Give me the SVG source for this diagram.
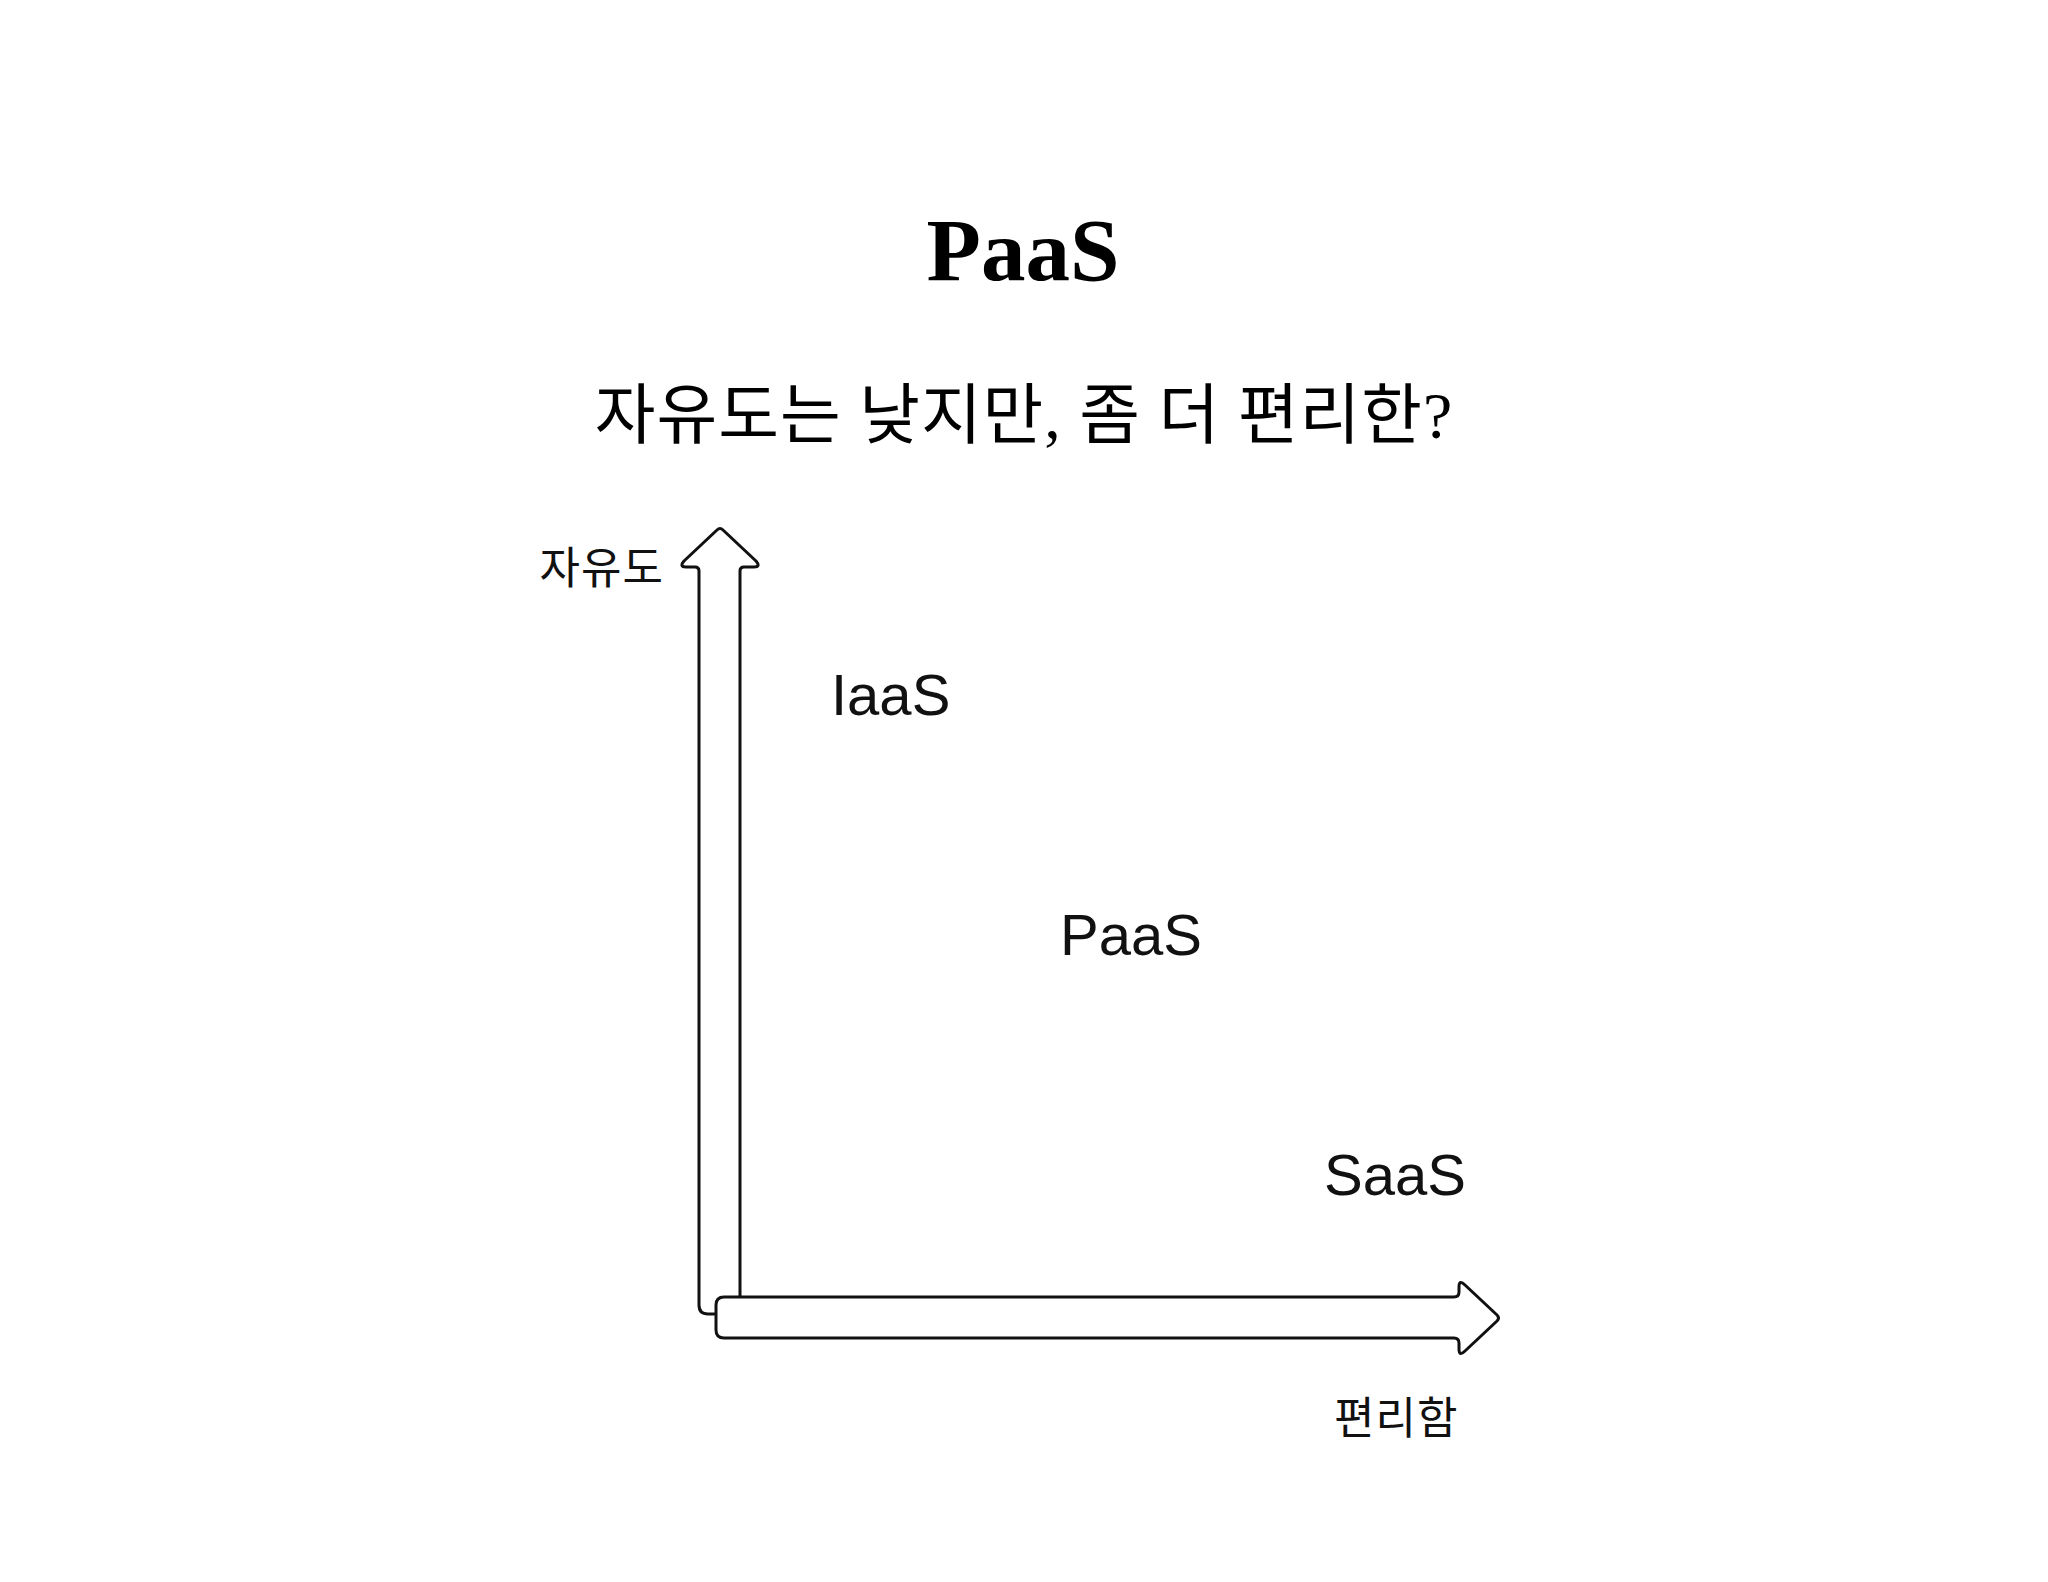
<svg xmlns="http://www.w3.org/2000/svg" width="2048" height="1582" viewBox="0 0 2048 1582">
<style>
.arrow{fill:#fff;stroke:#111;stroke-width:3;stroke-linejoin:round}
.title{font-family:"Liberation Serif","Noto Sans CJK KR",serif;font-weight:bold;font-size:89px;fill:#000}
.sub{font-family:"Liberation Serif","Noto Sans CJK KR",serif;font-size:66px;letter-spacing:1px;fill:#000}
.axis{font-family:"Noto Sans CJK KR","Noto Sans",sans-serif;font-size:44px;letter-spacing:1px;fill:#111}
.lbl{font-family:"Liberation Sans",Arial,sans-serif;font-size:58px;fill:#111}
</style>
<rect width="2048" height="1582" fill="#fff"/>
<g id="title"><text class="title" x="1023" y="280" text-anchor="middle">PaaS</text></g>
<g id="subtitle"><text class="sub" x="1024" y="438" text-anchor="middle">자유도는 낮지만, 좀 더 편리한?</text></g>
<g id="connectors">
<path id="y-axis" class="arrow" d="M740,1320 L740,571 Q740,567 744,567 L754,567 Q761,567 756,561 L723,530 Q720,527 717,530 L684,561 Q679,567 686,567 L695,567 Q699,567 699,571 L699,1305 Q699,1314 708,1314 L740,1314 Z"/>
<path id="x-axis" class="arrow" d="M724,1297 L1454,1297 Q1459,1297 1459,1292 L1459,1287 Q1459,1279 1465,1285 L1497,1315 Q1500,1318 1497,1321 L1465,1351 Q1459,1357 1459,1349 L1459,1343 Q1459,1338 1454,1338 L724,1338 Q716,1338 716,1330 L716,1305 Q716,1297 724,1297 Z"/>
</g>
<g id="label-freedom"><text class="axis" x="664" y="584" text-anchor="end">자유도</text></g>
<g id="label-convenience"><text class="axis" x="1334" y="1434">편리함</text></g>
<g id="node-iaas"><text class="lbl" x="831" y="715">IaaS</text></g>
<g id="node-paas"><text class="lbl" x="1060" y="955">PaaS</text></g>
<g id="node-saas"><text class="lbl" x="1324" y="1195">SaaS</text></g>
</svg>
